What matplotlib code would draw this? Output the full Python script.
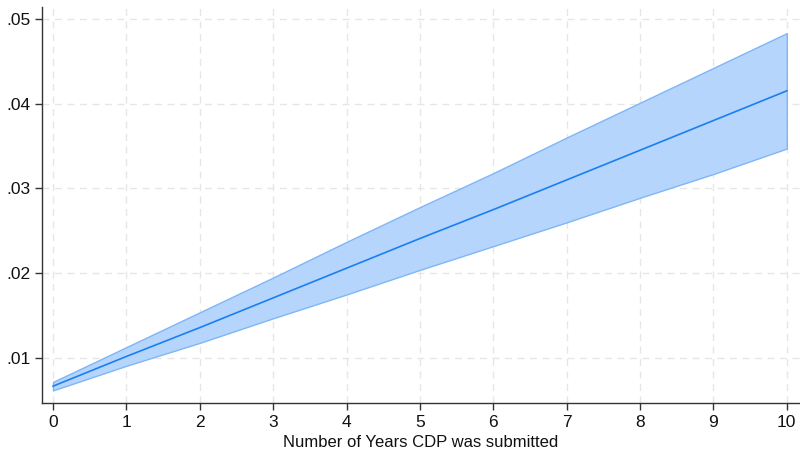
import numpy as np
import matplotlib.pyplot as plt

plt.rcParams['font.family'] = ['Liberation Sans', 'DejaVu Sans']

years = [0, 1, 2, 3, 4, 5, 6, 7, 8, 9, 10]
pred = [0.0067, 0.0102, 0.0136, 0.0171, 0.0206, 0.0241, 0.0275, 0.0310, 0.0345, 0.0380, 0.0415]
upper = [0.0072, 0.0113, 0.0154, 0.0195, 0.0237, 0.0278, 0.0318, 0.0360, 0.0401, 0.0442, 0.0483]
lower = [0.0062, 0.0091, 0.0118, 0.0147, 0.0175, 0.0204, 0.0232, 0.0260, 0.0289, 0.0317, 0.0347]

yticks = [0.01, 0.02, 0.03, 0.04, 0.05]
ylabels = [".01", ".02", ".03", ".04", ".05"]

fig = plt.figure(figsize=(8, 4.55), dpi=100)
ax = fig.add_axes([0.0525, 0.114, 0.9475, 0.871])

ax.fill_between(years, lower, upper, facecolor="#b5d5fc", edgecolor="#7fb6f6", linewidth=1.0, zorder=2)
ax.plot(years, pred, color="#1a7ff0", linewidth=1.2, zorder=3)

ax.set_xlim(-0.15, 10.18)
ax.set_ylim(0.0047, 0.0514)
ax.set_xticks(years)
ax.set_yticks(yticks)
ax.set_yticklabels(ylabels)
ax.grid(True, color="#e6e6e6", linestyle=(0, (5, 4)), linewidth=1.0, zorder=0)
ax.set_axisbelow(True)

for s in ["top", "right"]:
    ax.spines[s].set_visible(False)
for s in ["left", "bottom"]:
    ax.spines[s].set_color("#333333")
    ax.spines[s].set_linewidth(1.0)

ax.tick_params(axis="both", direction="out", length=5, width=1, color="#333333", labelsize=12.5, labelcolor="#111111")
ax.set_xlabel("Number of Years CDP was submitted", fontsize=12, color="#111111", labelpad=4)

fig.savefig("out.png", dpi=100)
